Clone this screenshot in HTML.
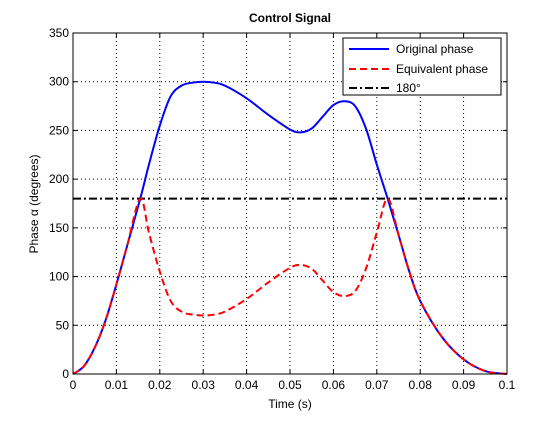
<!DOCTYPE html>
<html><head><meta charset="utf-8"><style>
body{margin:0;background:#fff;}
svg text{font-family:"Liberation Sans",Arial,sans-serif;}
</style></head><body>
<svg id="chart" width="560" height="420" viewBox="0 0 560 420">
<rect width="560" height="420" fill="#fff"/>
<g id="grid"></g>
<g id="series"></g>
<rect x="73" y="33" width="434" height="341" fill="none" stroke="#000"/>
<g id="ticks"></g>
<text x="290" y="22" text-anchor="middle" font-size="12" font-weight="bold">Control Signal</text>
<text x="290" y="408" text-anchor="middle" font-size="12">Time (s)</text>
<text transform="translate(38,204) rotate(-90)" text-anchor="middle" font-size="12">Phase α (degrees)</text>
<g>
<rect x="343" y="38" width="158" height="57" fill="#fff" stroke="#000"/>
<g><line x1="349" y1="49" x2="389" y2="49" stroke="#0000ff" stroke-width="2"/><text x="396" y="53" font-size="12">Original phase</text></g>
<g><line x1="349" y1="69" x2="389" y2="69" stroke="#ff0000" stroke-width="2" stroke-dasharray="7,4"/><text x="396" y="73" font-size="12">Equivalent phase</text></g>
<g><line x1="349" y1="88" x2="389" y2="88" stroke="#000" stroke-width="2" stroke-dasharray="8,3,2,3"/><text x="396" y="92" font-size="12">180°</text></g>
</g>
</svg>
<script>
const times=[0,0.0025,0.005,0.0075,0.01,0.0125,0.0155,0.0175,0.02,0.0225,0.025,0.0275,0.03,0.0325,0.035,0.04,0.045,0.05,0.0525,0.055,0.0575,0.06,0.0625,0.065,0.0675,0.07,0.0725,0.075,0.0775,0.08,0.085,0.09,0.095,0.1];
const originalPhase=[0,8,27,55,92,132,180,215,255,285,296,299,300,299,296,283,266,251,248,252,264,276,280,275,252,215,180,143,105,75,38,15,3,0];
const equivalentPhase=[0,8,27,55,92,132,180,145,105,75,64,61,60,61,64,77,94,109,112,108,96,84,80,85,108,145,180,143,105,75,38,15,3,0];
const refLevel=[180];
const xTicks=[0,0.01,0.02,0.03,0.04,0.05,0.06,0.07,0.08,0.09,0.1];
const xTickLabels=["0","0.01","0.02","0.03","0.04","0.05","0.06","0.07","0.08","0.09","0.1"];
const yTicks=[0,50,100,150,200,250,300,350];
const NS="http://www.w3.org/2000/svg";
const L=73,R=507,T=33,B=374;
const X=v=>L+(v-0)/(0.1-0)*(R-L);
const Y=v=>B-(v-0)/350*(B-T);
function mk(tag,attrs,parent){const e=document.createElementNS(NS,tag);for(const k in attrs)e.setAttribute(k,attrs[k]);parent.appendChild(e);return e;}
const grid=document.getElementById('grid'),ticks=document.getElementById('ticks'),series=document.getElementById('series');
xTicks.forEach((t,i)=>{
  const x=X(t);
  if(i>0&&i<xTicks.length-1){const g=mk('line',{x1:x,y1:T,x2:x,y2:B,stroke:'#000','stroke-dasharray':'1,3'},grid);
  
  }
  mk('line',{x1:x,y1:B,x2:x,y2:B-4,stroke:'#000'},ticks);
  mk('line',{x1:x,y1:T,x2:x,y2:T+4,stroke:'#000'},ticks);
  const tx=mk('text',{x:x,y:B+15,'text-anchor':'middle','font-size':'12'},ticks);
  tx.textContent=xTickLabels[i];
  
  
});
yTicks.forEach((v,i)=>{
  const y=Y(v);
  if(i>0&&i<yTicks.length-1){const g=mk('line',{x1:L,y1:y,x2:R,y2:y,stroke:'#000','stroke-dasharray':'1,3'},grid);
  
  }
  mk('line',{x1:L,y1:y,x2:L+4,y2:y,stroke:'#000'},ticks);
  mk('line',{x1:R,y1:y,x2:R-4,y2:y,stroke:'#000'},ticks);
  const tx=mk('text',{x:L-4,y:y+4,'text-anchor':'end','font-size':'12'},ticks);
  tx.textContent=String(v);
  
  
});
function smooth(xs,ys){
  const p=xs.map((t,i)=>[X(t),Y(ys[i])]);
  let d='M'+p[0][0]+','+p[0][1];
  for(let i=0;i<p.length-1;i++){
    const p0=p[Math.max(i-1,0)],p1=p[i],p2=p[i+1],p3=p[Math.min(i+2,p.length-1)];
    const c1=[p1[0]+(p2[0]-p0[0])/6,p1[1]+(p2[1]-p0[1])/6];
    const c2=[p2[0]-(p3[0]-p1[0])/6,p2[1]-(p3[1]-p1[1])/6];
    d+=' C'+c1+' '+c2+' '+p2;
  }
  return d;
}
const ref=mk('line',{x1:X(times[0]),y1:Y(refLevel[0]),x2:X(times[times.length-1]),y2:Y(refLevel[0]),stroke:'#000','stroke-width':2,'stroke-dasharray':'8,3,2,3'},series);


const o=mk('path',{d:smooth(times,originalPhase),fill:'none',stroke:'#0000ff','stroke-width':2},series);


const e=mk('path',{d:smooth(times,equivalentPhase),fill:'none',stroke:'#ff0000','stroke-width':2,'stroke-dasharray':'7,4'},series);


</script>
</body></html>
